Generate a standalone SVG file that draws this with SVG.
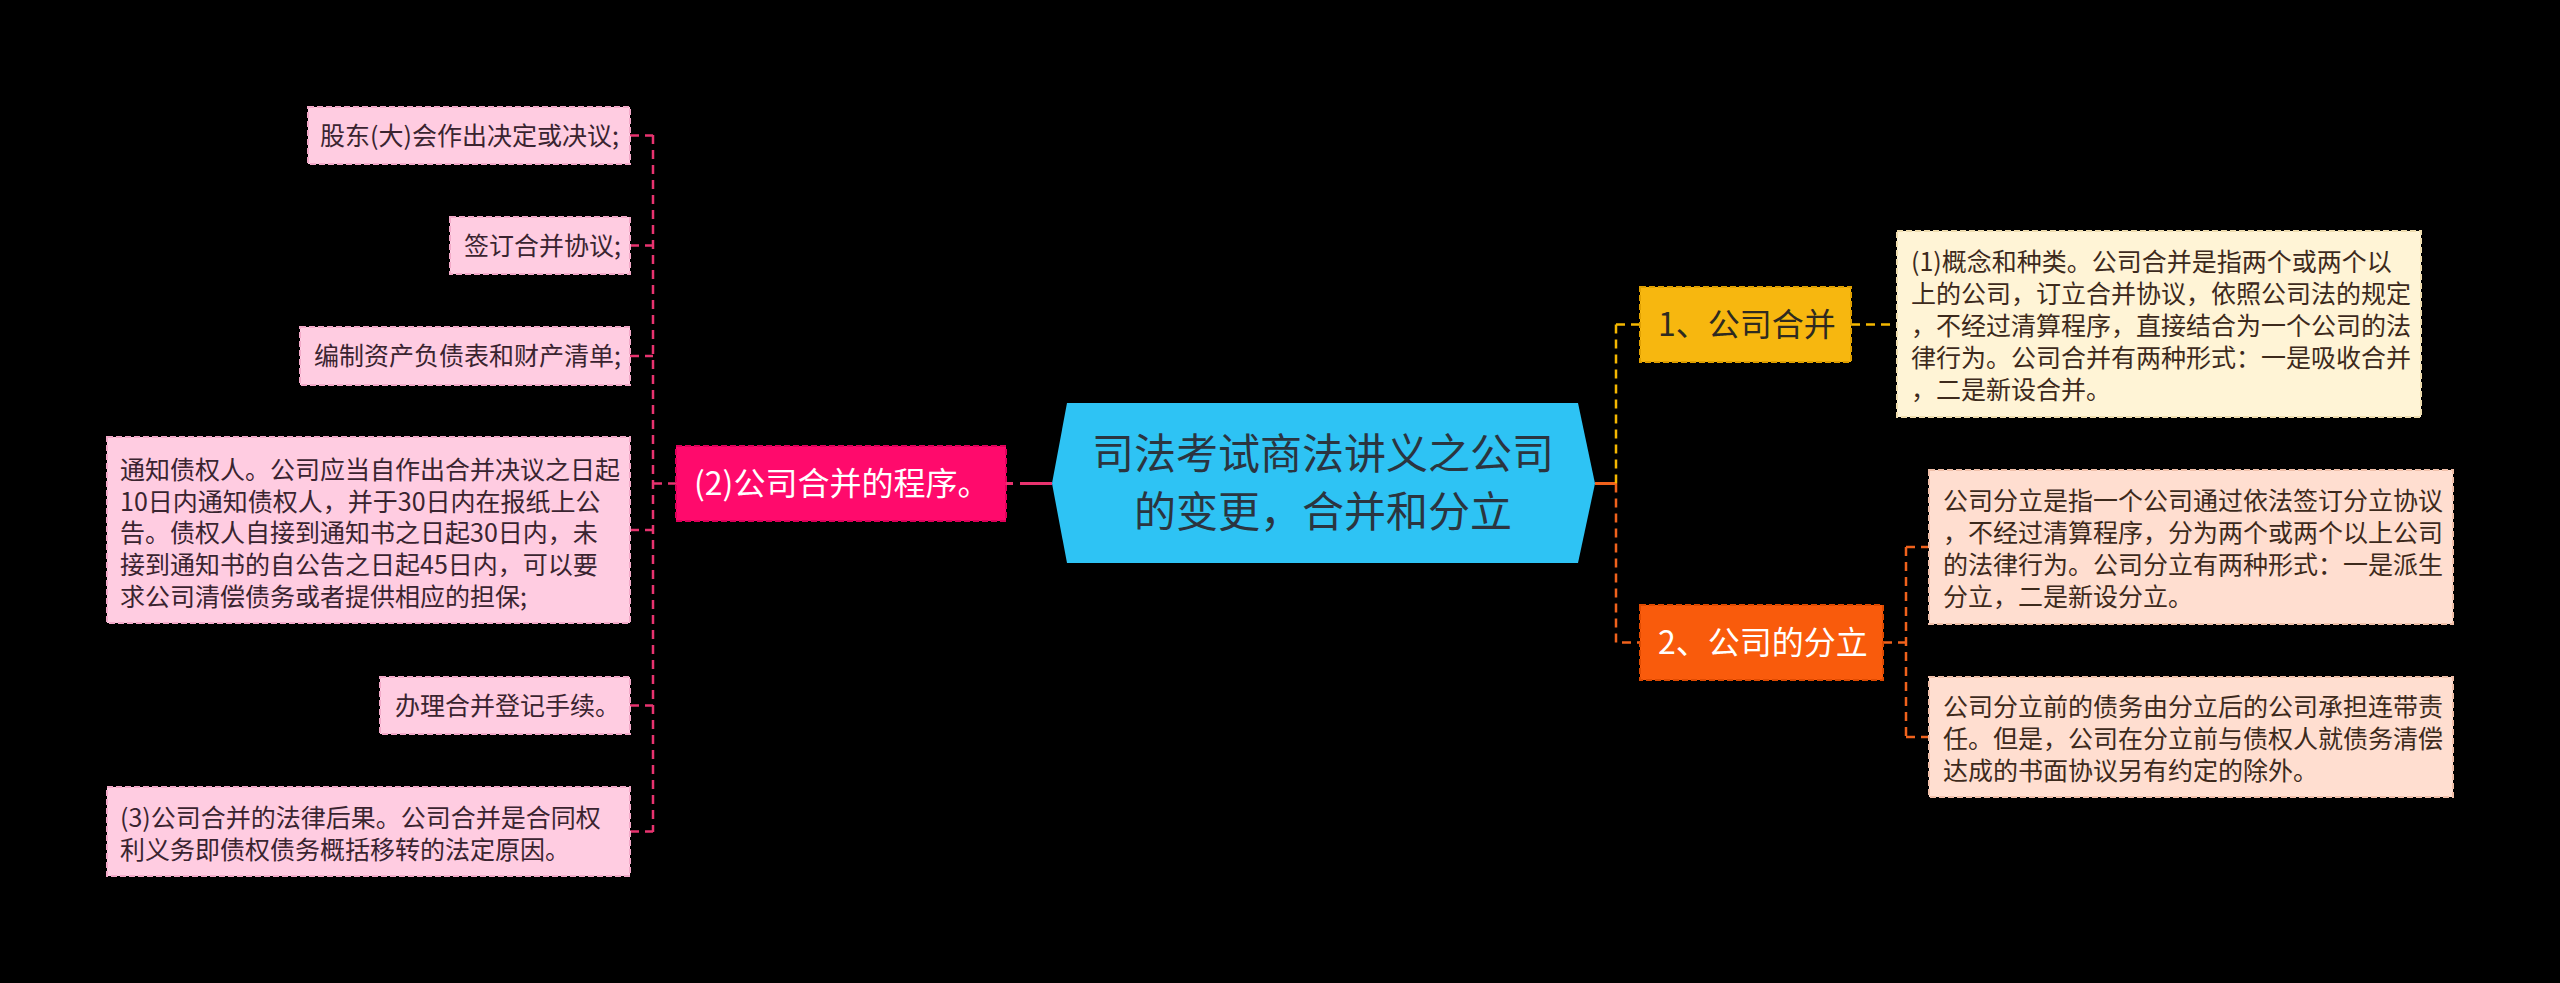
<svg xmlns="http://www.w3.org/2000/svg" width="2560" height="983" viewBox="0 0 2560 983">
<style>
text{font-family:"Noto Sans CJK SC","Noto Sans",sans-serif;}
.leaf{font-size:25px;fill:#3a2430;}
.leafr{font-size:25px;fill:#3d2a1c;}
.pinkbox{fill:#ffcce1;stroke:#f2a9c8;stroke-width:2;stroke-dasharray:6 3;}
.creambox{fill:#fff4d6;stroke:#eedcae;stroke-width:2;stroke-dasharray:6 3;}
.peachbox{fill:#ffded0;stroke:#f0bfa9;stroke-width:2;stroke-dasharray:6 3;}
.pk{fill:none;stroke:#e8336f;stroke-width:2.5;stroke-dasharray:9 6;}
.yl{fill:none;stroke:#f5b800;stroke-width:2.5;stroke-dasharray:9 6;}
.or{fill:none;stroke:#f0621c;stroke-width:2.5;stroke-dasharray:9 6;}
</style>
<rect width="2560" height="983" fill="#000"/>
<g id="connectors">
<path class="pk" d="M653 135 V832"/>
<path class="pk" d="M630 135.5 H653 M630 245.5 H653 M630 356 H653 M630 530 H653 M630 705.5 H653 M630 831.5 H653"/>
<path class="pk" d="M653 483.5 H676"/>
<path d="M1006 483.5 H1013 M1020 483.5 H1052" fill="none" stroke="#e8336f" stroke-width="3"/>
<path d="M1595 483.5 H1617" fill="none" stroke="#f0621c" stroke-width="3"/>
<path class="yl" d="M1616 324.5 V483.5 M1616 324.5 H1640"/>
<path class="or" d="M1616 483.5 V642.5 H1640"/>
<path class="yl" d="M1851 324.5 H1897"/>
<path class="or" d="M1883 642.5 H1906 M1906 547 V737 M1906 547 H1929 M1906 737 H1929"/>
</g>
<g id="center">
<polygon points="1052,483.5 1067,403 1578,403 1595,483.5 1578,563 1067,563" fill="#2ec3f4"/>
<text x="1323" y="469" font-size="42" fill="#2b3540" text-anchor="middle">司法考试商法讲义之公司</text>
<text x="1323" y="527" font-size="42" fill="#2b3540" text-anchor="middle">的变更，合并和分立</text>
</g>
<g id="n2">
<rect x="676" y="446" width="330" height="75" fill="#ff0a6c" stroke="#e0005a" stroke-width="2" stroke-dasharray="6 3"/>
<text x="694" y="495" font-size="32" fill="#fff">(2)公司合并的程序。</text>
</g>
<g id="l1"><rect class="pinkbox" x="308" y="107" width="322" height="57"/><text class="leaf" x="320" y="145">股东(大)会作出决定或决议;</text></g>
<g id="l2"><rect class="pinkbox" x="450" y="217" width="180" height="57"/><text class="leaf" x="464" y="255">签订合并协议;</text></g>
<g id="l3"><rect class="pinkbox" x="300" y="327" width="330" height="58"/><text class="leaf" x="314" y="365">编制资产负债表和财产清单;</text></g>
<g id="l4"><rect class="pinkbox" x="107" y="437" width="523" height="186"/>
<text class="leaf" x="120" y="479">通知债权人。公司应当自作出合并决议之日起</text>
<text class="leaf" x="120" y="511">10日内通知债权人，并于30日内在报纸上公</text>
<text class="leaf" x="120" y="542">告。债权人自接到通知书之日起30日内，未</text>
<text class="leaf" x="120" y="574">接到通知书的自公告之日起45日内，可以要</text>
<text class="leaf" x="120" y="606">求公司清偿债务或者提供相应的担保;</text>
</g>
<g id="l5"><rect class="pinkbox" x="380" y="677" width="250" height="57"/><text class="leaf" x="395" y="715">办理合并登记手续。</text></g>
<g id="l6"><rect class="pinkbox" x="107" y="787" width="523" height="89"/>
<text class="leaf" x="120" y="827">(3)公司合并的法律后果。公司合并是合同权</text>
<text class="leaf" x="120" y="859">利义务即债权债务概括移转的法定原因。</text>
</g>
<g id="n1">
<rect x="1640" y="287" width="211" height="75" fill="#f7b70f" stroke="#e0a000" stroke-width="2" stroke-dasharray="6 3"/>
<text x="1658" y="336" font-size="32" fill="#2e2a20">1、公司合并</text>
</g>
<g id="r1"><rect class="creambox" x="1897" y="231" width="524" height="186"/>
<text class="leafr" x="1911" y="271">(1)概念和种类。公司合并是指两个或两个以</text>
<text class="leafr" x="1911" y="303">上的公司，订立合并协议，依照公司法的规定</text>
<text class="leafr" x="1911" y="335">，不经过清算程序，直接结合为一个公司的法</text>
<text class="leafr" x="1911" y="367">律行为。公司合并有两种形式：一是吸收合并</text>
<text class="leafr" x="1911" y="399">，二是新设合并。</text>
</g>
<g id="n3">
<rect x="1640" y="605" width="243" height="75" fill="#f95b0c" stroke="#e04a00" stroke-width="2" stroke-dasharray="6 3"/>
<text x="1658" y="654" font-size="32" fill="#fff">2、公司的分立</text>
</g>
<g id="r2"><rect class="peachbox" x="1929" y="470" width="524" height="154"/>
<text class="leafr" x="1943" y="510">公司分立是指一个公司通过依法签订分立协议</text>
<text class="leafr" x="1943" y="542">，不经过清算程序，分为两个或两个以上公司</text>
<text class="leafr" x="1943" y="574">的法律行为。公司分立有两种形式：一是派生</text>
<text class="leafr" x="1943" y="606">分立，二是新设分立。</text>
</g>
<g id="r3"><rect class="peachbox" x="1929" y="677" width="524" height="120"/>
<text class="leafr" x="1943" y="716">公司分立前的债务由分立后的公司承担连带责</text>
<text class="leafr" x="1943" y="748">任。但是，公司在分立前与债权人就债务清偿</text>
<text class="leafr" x="1943" y="780">达成的书面协议另有约定的除外。</text>
</g>
</svg>
